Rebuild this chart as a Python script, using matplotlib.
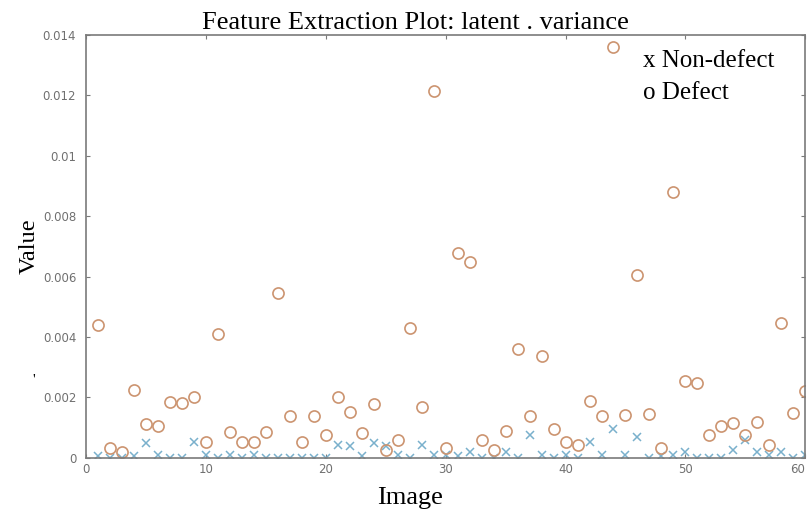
import numpy as np
import matplotlib.pyplot as plt

image = np.arange(1, 61)

defect = [0.0044, 0.00032, 0.0002, 0.00223, 0.00112, 0.00107, 0.00186, 0.00183, 0.002, 0.00052,
          0.0041, 0.00087, 0.00054, 0.00054, 0.00087, 0.00545, 0.00139, 0.00052, 0.0014, 0.00074,
          0.00203, 0.00151, 0.00083, 0.00179, 0.00026, 0.0006, 0.00431, 0.00167, 0.01215, 0.00032,
          0.00678, 0.00648, 0.0006, 0.00026, 0.0009, 0.0036, 0.00139, 0.00338, 0.00095, 0.00054,
          0.00043, 0.00189, 0.00139, 0.0136, 0.00142, 0.00605, 0.00145, 0.00032, 0.00879, 0.00255,
          0.00249, 0.00074, 0.00104, 0.00115, 0.00074, 0.0012, 0.00041, 0.00448, 0.00148, 0.0022]

non_defect = [0.00005, 0.0, 0.0, 0.00005, 0.0005, 0.0001, 0.0, 0.0, 0.00052, 0.0001,
              0.0, 0.0001, 0.0, 0.0001, 0.0, 0.0, 0.0, 0.0, 0.0, 0.0,
              0.00043, 0.0004, 0.00005, 0.00048, 0.0004, 0.0001, 0.0, 0.00043, 0.0001, 0.0001,
              0.00005, 0.0002, 0.0, 0.0, 0.0002, 0.0, 0.00075, 0.0001, 0.0, 0.0001,
              0.0, 0.00054, 0.0001, 0.00095, 0.0001, 0.0007, 0.0, 0.00005, 0.0001, 0.0002,
              0.0, 0.0, 0.0, 0.00025, 0.0006, 0.0002, 0.0001, 0.0002, 0.0, 0.0001]

yticks = np.arange(0, 0.0141, 0.002)
ytick_labels = ['0', '0.002', '0.004', '0.006', '0.008', '0.01', '0.012', '0.014']

fig = plt.figure(figsize=(8.11, 5.15), dpi=100)
ax = fig.add_axes([0.106, 0.111, 0.887, 0.821])

ax.plot(image, non_defect, 'x', color='#7ab0cc', ms=6, mew=1.1)
ax.plot(image, defect, 'o', mfc='none', mec='#cc9470', ms=8, mew=1.2)

ax.set_xlim(0, 60)
ax.set_ylim(0, 0.014)
ax.set_xticks(np.arange(0, 61, 10))
ax.set_yticks(yticks)
ax.set_yticklabels(ytick_labels)

for s in ax.spines.values():
    s.set_color('#7a7a7a')
    s.set_linewidth(1.2)
ax.tick_params(direction='in', length=3, colors='#7a7a7a', labelcolor='#707070',
               labelsize=8.5, top=True, right=True)
ax.tick_params(axis='y', pad=7)
ax.get_xticklabels()[-1].set_horizontalalignment('right')

serif = 'Liberation Serif'
# title and xlabel sit a bit left of centre in the original
ax.text(0.4576, 1.014, 'Feature Extraction Plot: latent . variance', transform=ax.transAxes,
        family=serif, fontsize=19, ha='center', va='baseline')
ax.text(0.451, -0.068, 'Image', transform=ax.transAxes, family=serif, fontsize=19,
        ha='center', va='top')
ax.set_ylabel('Value', family=serif, fontsize=17.5, labelpad=2)

ax.text(0.775, 0.925, 'x Non-defect', transform=ax.transAxes, family=serif, fontsize=18)
ax.text(0.775, 0.848, 'o Defect', transform=ax.transAxes, family=serif, fontsize=18)
fig.text(0.04, 0.255, "'", family=serif, fontsize=11)

fig.savefig('out.png', dpi=100)
